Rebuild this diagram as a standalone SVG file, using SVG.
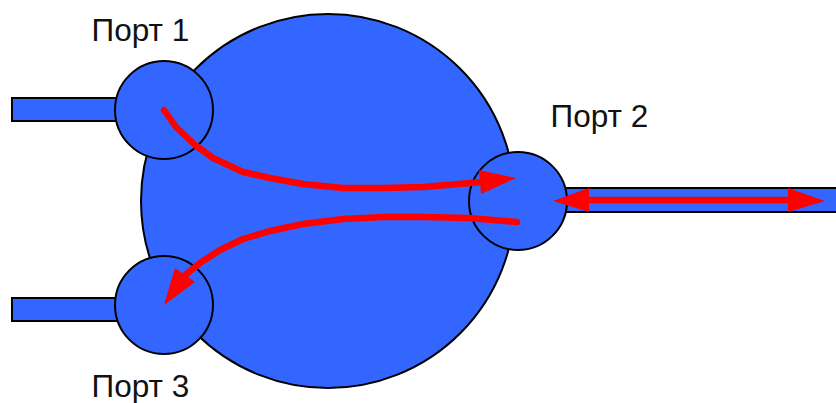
<svg xmlns="http://www.w3.org/2000/svg" width="836" height="403" viewBox="0 0 836 403">
<style>
.b{fill:#3366ff;stroke:#000;stroke-width:2}
.l{font-family:"Liberation Sans",Arial,sans-serif;font-size:31.5px;fill:#111}
.a{fill:none;stroke:#ff0000;stroke-width:6.5;stroke-linecap:round;stroke-linejoin:round}
.h{fill:#ff0000;stroke:none}
</style>
<rect width="836" height="403" fill="#fff"/>
<g id="body"><circle class="b" cx="328" cy="201" r="187"/></g>
<g id="port1"><rect class="b" x="12" y="98" width="110" height="23"/><circle class="b" cx="164" cy="110" r="49"/><text class="l" x="91.5" y="41">Порт 1</text></g>
<g id="port3"><rect class="b" x="12" y="298" width="110" height="23"/><circle class="b" cx="164" cy="305" r="49"/><text class="l" x="91.5" y="397">Порт 3</text></g>
<g id="port2"><rect class="b" x="555" y="188" width="290" height="24"/><circle class="b" cx="518" cy="201" r="49"/><text class="l" x="550.5" y="127">Порт 2</text></g>
<g id="connectors">
<path class="a" d="M164 110L176 127L195 145L213 158L243 172L270 178L303 184L343 188L383 188L423 187L482 182"/>
<polygon class="h" points="516,178 479,170 481,194"/>
<path class="a" d="M517 222L470 218L423 217L383 217L343 219L303 224L270 231L243 239L220 250L200 263L183 277"/>
<polygon class="h" points="164,305 175,268 195,282"/>
<path class="a" d="M585 200H792"/>
<polygon class="h" points="553,201 589,188 589,212"/>
<polygon class="h" points="825,201 788,188 788,212"/>
</g>
</svg>
